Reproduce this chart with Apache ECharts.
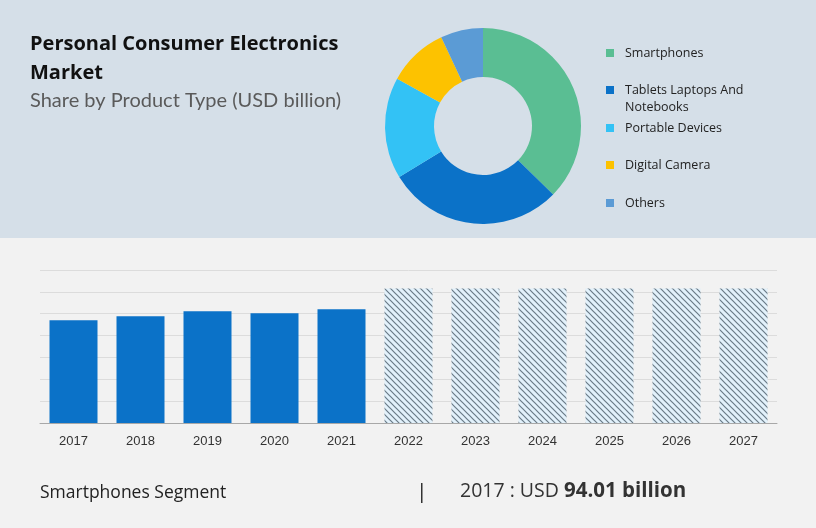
<!DOCTYPE html>
<html>
<head>
<meta charset="utf-8">
<script src="https://cdn.jsdelivr.net/npm/echarts@6/dist/echarts.min.js"></script>
<style>
  html, body { margin: 0; padding: 0; background: #f2f2f2; }
  #main { width: 816px; height: 528px; }
</style>
</head>
<body>
<div id="main"></div>
<script>
// donut: share by product type
var segments = ['Smartphones', 'Tablets Laptops And Notebooks', 'Portable Devices', 'Digital Camera', 'Others'];
var segmentShares = [37.3, 29.0, 16.7, 10.0, 7.0];
var segmentColors = ['#5abe93', '#0b72c8', '#33c2f5', '#fdc200', '#5b9bd5'];

// bars: smartphones segment size by year
var years = ['2017', '2018', '2019', '2020', '2021', '2022', '2023', '2024', '2025', '2026', '2027'];
var actualValues = [94.01, 97.7, 102.3, 100.5, 104.1];
var forecastValues = [123, 123, 123, 123, 123, 123];

// legend rows (icon centre y)
var legendRows = [53, 90, 128, 165, 203];

// hatched fill for forecast bars
function makeHatch() {
  var c = document.createElement('canvas');
  var s = 6;
  c.width = s; c.height = s;
  var ctx = c.getContext('2d');
  ctx.fillStyle = '#e2f1fb';
  ctx.fillRect(0, 0, s, s);
  ctx.strokeStyle = '#6a7a87';
  ctx.lineWidth = 1.2;
  ctx.beginPath();
  ctx.moveTo(-1, -1); ctx.lineTo(s + 1, s + 1);
  ctx.moveTo(-1, s - 1); ctx.lineTo(1, s + 1);
  ctx.moveTo(s - 1, -1); ctx.lineTo(s + 1, 1);
  ctx.stroke();
  return c;
}
var hatch = makeHatch();

var barData = years.map(function (y, i) {
  if (i < actualValues.length) {
    return { value: actualValues[i], itemStyle: { color: '#0b72c8' } };
  }
  return {
    value: forecastValues[i - actualValues.length],
    itemStyle: { color: { image: hatch, repeat: 'repeat' } }
  };
});

var pieData = segments.map(function (name, i) {
  return { name: name, value: segmentShares[i], itemStyle: { color: segmentColors[i] } };
});

// one legend per row so the two-line label keeps its icon on the first line
var legends = segments.map(function (name, i) {
  var twoLine = name === 'Tablets Laptops And Notebooks';
  return {
    orient: 'vertical',
    left: 601,
    top: twoLine ? legendRows[i] - 25.5 - 5 : legendRows[i] - 8.5 - 5,
    data: [name],
    icon: 'rect',
    itemWidth: 8,
    itemHeight: 8,
    itemGap: 0,
    selectedMode: false,
    formatter: function (n) {
      return n === 'Tablets Laptops And Notebooks' ? ' \nTablets Laptops And\nNotebooks' : n;
    },
    textStyle: {
      fontFamily: 'Open Sans',
      fontSize: 12.5,
      color: '#222',
      lineHeight: 17,
      padding: [0, 0, 0, 6]
    }
  };
});

var chart = echarts.init(document.getElementById('main'));

var option = {
  backgroundColor: '#f2f2f2',
  animation: false,
  graphic: [
    {
      type: 'rect', z: -10, silent: true,
      shape: { x: 0, y: 0, width: 816, height: 238 },
      style: { fill: '#d5dfe8' }
    },
    {
      type: 'text', left: 30, top: 30,
      style: {
        text: 'Personal Consumer Electronics\nMarket',
        fontFamily: 'Open Sans', fontWeight: 'bold', fontSize: 20,
        lineHeight: 29, fill: '#111'
      }
    },
    {
      type: 'text', left: 30, top: 91,
      style: {
        text: 'Share by Product Type (USD billion)',
        fontFamily: 'Lato', fontSize: 20, fill: '#5a5a5a'
      }
    },
    {
      type: 'text', left: 40, top: 484,
      style: {
        text: 'Smartphones Segment',
        fontFamily: 'Open Sans', fontSize: 17.5, fill: '#222'
      }
    },
    {
      type: 'rect', silent: true,
      shape: { x: 421, y: 483, width: 1.5, height: 20 },
      style: { fill: '#333' }
    },
    {
      type: 'text', left: 460, top: 481,
      style: {
        text: '{n|2017 : USD }{b|94.01 billion}',
        rich: {
          n: { fontFamily: 'Open Sans', fontSize: 19.5, fill: '#333' },
          b: { fontFamily: 'Open Sans', fontWeight: 'bold', fontSize: 20.5, fill: '#333' }
        }
      }
    }
  ],
  legend: legends,
  grid: { left: 40, right: 39, top: 270, bottom: 105, containLabel: false },
  xAxis: {
    type: 'category',
    data: years,
    axisTick: { show: false },
    axisLine: { lineStyle: { color: '#a8a8a8' } },
    axisLabel: { fontFamily: 'Liberation Sans', fontSize: 13, color: '#333', margin: 12 }
  },
  yAxis: {
    type: 'value',
    min: 0, max: 140, interval: 20,
    axisLabel: { show: false },
    axisLine: { show: false },
    axisTick: { show: false },
    splitLine: { lineStyle: { color: '#dcdcdc' } }
  },
  series: [
    {
      type: 'pie',
      center: [483, 126],
      radius: [49, 98],
      startAngle: 90,
      label: { show: false },
      labelLine: { show: false },
      emphasis: { disabled: true },
      data: pieData
    },
    {
      type: 'bar',
      barWidth: 48,
      data: barData
    }
  ]
};

chart.setOption(option);
</script>
</body>
</html>
